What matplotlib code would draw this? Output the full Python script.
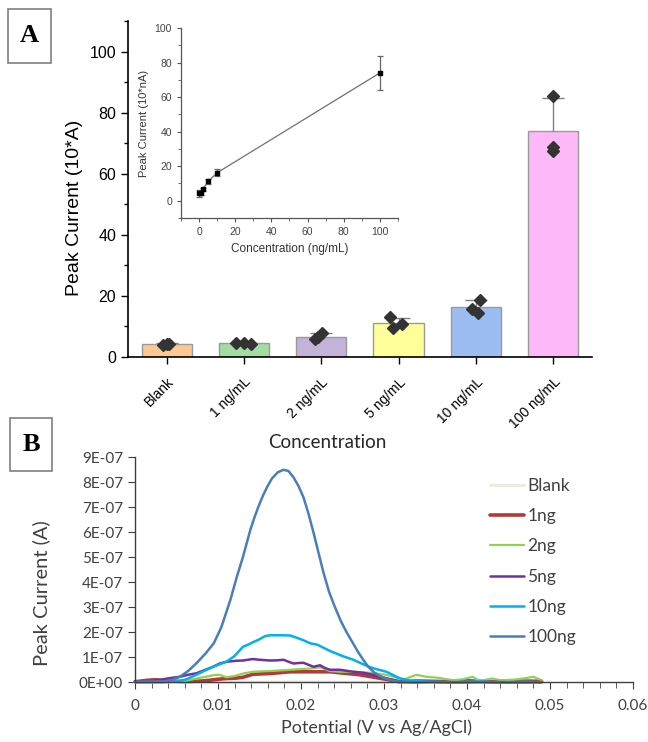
import numpy as np
import matplotlib
matplotlib.use("Agg")
import matplotlib.pyplot as plt
from matplotlib.patches import Rectangle
from matplotlib.ticker import MultipleLocator, FuncFormatter

# ---------------- Data: panel A ----------------
categories = ["Blank", "1 ng/mL", "2 ng/mL", "5 ng/mL", "10 ng/mL", "100 ng/mL"]
bar_means = [4.2, 4.5, 6.5, 11.2, 16.2, 74.0]
bar_sd = [0.3, 0.2, 1.3, 1.6, 2.4, 10.8]
rep1 = [4.0, 4.5, 5.9, 13.0, 15.6, 85.4]
rep2 = [4.3, 4.6, 6.6, 9.6, 14.5, 68.7]
rep3 = [4.1, 4.2, 7.9, 10.7, 18.6, 67.4]
jit1 = [-0.05, -0.10, -0.08, -0.11, -0.05, 0.0]
jit2 = [0.00, 0.00, -0.04, -0.07, 0.03, 0.0]
jit3 = [0.03, 0.09, 0.01, 0.04, 0.05, 0.0]
bar_colors = ["#FFC891", "#A3DCA3", "#C3B3D8", "#FFFF99", "#9CBDF2", "#FDB8F8"]

# inset
inset_conc = [0, 1, 2, 5, 10, 100]
inset_mean = [4.2, 4.5, 6.5, 11.2, 16.2, 74.0]
inset_sd = [2.0, 1.0, 1.0, 1.5, 2.0, 10.0]

# ---------------- Data: panel B ----------------
blank_x = [0, 0.01, 0.02, 0.03, 0.04, 0.049]
blank_y = [0.01, 0.0, 0.01, 0.0, 0.01, 0.0]

ng1_x = [0, 0.0015, 0.0025, 0.004, 0.006, 0.008, 0.009, 0.01, 0.011, 0.012, 0.013,
         0.0142, 0.0163, 0.0187, 0.0211, 0.0235, 0.0247, 0.0271, 0.0295, 0.0319,
         0.034, 0.037, 0.040, 0.043, 0.046, 0.049]
ng1_y = [0.02, 0.08, 0.10, 0.05, 0.03, 0.05, 0.08, 0.12, 0.15, 0.16, 0.20,
         0.32, 0.35, 0.42, 0.42, 0.42, 0.38, 0.30, 0.16, 0.02,
         0.05, 0.03, 0.06, 0.02, 0.05, 0.04]

ng2_x = [0, 0.003, 0.006, 0.0074, 0.0085, 0.0094, 0.0102, 0.011, 0.012, 0.013, 0.0142,
         0.0163, 0.0187, 0.0211, 0.0223, 0.0235, 0.0247, 0.0265, 0.0283, 0.0303, 0.0323,
         0.0339, 0.0351, 0.0365, 0.0383, 0.0395, 0.0407, 0.0415, 0.043, 0.044, 0.0455,
         0.0468, 0.048, 0.049]
ng2_y = [0.0, 0.0, 0.05, 0.15, 0.22, 0.28, 0.30, 0.20, 0.25, 0.35, 0.42,
         0.45, 0.50, 0.55, 0.60, 0.45, 0.42, 0.42, 0.38, 0.30, 0.10,
         0.30, 0.22, 0.18, 0.08, 0.12, 0.22, 0.05, 0.15, 0.08, 0.10,
         0.15, 0.22, 0.08]

ng5_x = [0, 0.002, 0.0034, 0.0045, 0.0054, 0.0064, 0.0074, 0.0085, 0.0094, 0.0102, 0.011,
         0.0122, 0.013, 0.0142, 0.015, 0.0163, 0.0172, 0.0179, 0.0185, 0.0191, 0.0197,
         0.0203, 0.0209, 0.0215, 0.0223, 0.0229, 0.0235, 0.0247, 0.0263, 0.0275, 0.0287,
         0.0303, 0.0319, 0.0335, 0.036, 0.039, 0.042, 0.045, 0.049]
ng5_y = [0.02, 0.05, 0.12, 0.18, 0.22, 0.30, 0.36, 0.50, 0.62, 0.75, 0.82,
         0.86, 0.87, 0.93, 0.90, 0.87, 0.88, 0.90, 0.82, 0.75, 0.77,
         0.78, 0.70, 0.62, 0.68, 0.57, 0.50, 0.50, 0.42, 0.38, 0.30,
         0.16, 0.03, 0.0, 0.02, 0.0, 0.02, 0.0, 0.01]

ng10_x = [0, 0.002, 0.004, 0.005, 0.0062, 0.0074, 0.0085, 0.0094, 0.0102, 0.011, 0.012,
          0.013, 0.0136, 0.0142, 0.015, 0.0157, 0.0163, 0.017, 0.0178, 0.0187, 0.0195,
          0.0203, 0.0211, 0.022, 0.0235, 0.025, 0.0263, 0.0275, 0.0287, 0.0303, 0.0319,
          0.0333, 0.035, 0.038, 0.041, 0.044, 0.047, 0.049]
ng10_y = [0.0, 0.0, 0.01, 0.03, 0.12, 0.30, 0.48, 0.62, 0.72, 0.82, 1.05,
          1.42, 1.50, 1.60, 1.72, 1.85, 1.88, 1.88, 1.88, 1.87, 1.78,
          1.68, 1.56, 1.50, 1.25, 1.05, 0.90, 0.72, 0.56, 0.42, 0.16,
          0.05, 0.03, 0.0, 0.03, 0.0, 0.02, 0.0]

ng100_x = [0, 0.002, 0.0035, 0.0045, 0.0054, 0.0064, 0.0074, 0.0085, 0.0095, 0.0104,
           0.0115, 0.0123, 0.0130, 0.0139, 0.0144, 0.0149, 0.0154, 0.0159, 0.0165, 0.0172,
           0.0179, 0.0185, 0.0191, 0.0197, 0.0203, 0.0209, 0.0215, 0.0221, 0.0227, 0.0234,
           0.0241, 0.0248, 0.0255, 0.0262, 0.0269, 0.0275, 0.0281, 0.0288, 0.0295, 0.0303,
           0.0311, 0.0319, 0.034, 0.037, 0.040, 0.043, 0.046, 0.049]
ng100_y = [0.02, 0.03, 0.04, 0.10, 0.22, 0.45, 0.76, 1.15, 1.56, 2.20,
           3.30, 4.25, 5.00, 6.10, 6.60, 7.05, 7.45, 7.80, 8.15, 8.40,
           8.50, 8.45, 8.20, 7.85, 7.40, 6.75, 6.00, 5.20, 4.40, 3.60,
           3.00, 2.45, 2.00, 1.60, 1.20, 0.90, 0.62, 0.40, 0.25, 0.14,
           0.06, 0.02, 0.0, 0.01, 0.0, 0.01, 0.0, 0.0]

series_labels = ["Blank", "1ng", "2ng", "5ng", "10ng", "100ng"]
series_colors = ["#EEECE1", "#B03A3A", "#92D050", "#7030A0", "#00B0F0", "#4A7EBB"]
series_lw = [2.2, 2.6, 1.6, 1.8, 1.8, 1.8]

# ---------------- Figure ----------------
fig = plt.figure(figsize=(6.48, 7.42), dpi=100)

AF = "Liberation Sans"
BF = "Lato"

# ---- Panel A main ----
ax = fig.add_axes([0.1975, 0.5189, 0.716, 0.4528])
xpos = np.arange(len(categories))
ax.bar(xpos, bar_means, width=0.65, color=bar_colors, edgecolor="#9a9a9a",
       linewidth=1.0, zorder=2)
eb = ax.errorbar(xpos, bar_means, yerr=[np.zeros(len(bar_sd)), bar_sd], fmt="none",
                 ecolor="#808080", elinewidth=1.0, capsize=8, capthick=1.0, zorder=3)
eb[1][0].set_visible(False)
for reps, jit in ((rep1, jit1), (rep2, jit2), (rep3, jit3)):
    ax.plot(xpos + np.array(jit), reps, ls="none", marker="D", ms=6,
            color="#333333", zorder=4)
ax.set_xlim(-0.5, 5.5)
ax.set_ylim(0, 110)
ax.yaxis.set_major_locator(MultipleLocator(20))
ax.yaxis.set_minor_locator(MultipleLocator(10))
ax.set_xticks(xpos)
ax.set_xticklabels(categories, rotation=45, ha="right", rotation_mode="anchor",
                   fontsize=10, family=AF)
for lab in ax.get_yticklabels():
    lab.set_family(AF)
ax.tick_params(axis="y", labelsize=11.5, direction="out", length=5, width=1)
ax.tick_params(axis="y", which="minor", direction="out", length=3, width=1)
ax.tick_params(axis="x", direction="out", length=5, width=1, pad=8)
for s in ("top", "right"):
    ax.spines[s].set_visible(False)
for s in ("left", "bottom"):
    ax.spines[s].set_linewidth(1.2)
ax.set_ylabel("Peak Current (10*A)", fontsize=14, family=AF)
ax.yaxis.set_label_coords(-0.097, 0.443)

# ---- Inset ----
ai = fig.add_axes([0.2793, 0.7062, 0.3349, 0.2561])
ai.patch.set_alpha(0)
ai.plot(inset_conc, inset_mean, color="#707070", lw=0.9, zorder=2)
ai.errorbar(inset_conc, inset_mean, yerr=inset_sd, fmt="s", ms=3.5, color="black",
            ecolor="#666666", elinewidth=0.9, capsize=2.5, capthick=0.9, zorder=3)
ai.set_xlim(-10, 110)
ai.set_ylim(-10, 100)
ai.xaxis.set_major_locator(MultipleLocator(20))
ai.xaxis.set_minor_locator(MultipleLocator(10))
ai.yaxis.set_major_locator(MultipleLocator(20))
ai.yaxis.set_minor_locator(MultipleLocator(10))
for s in ("top", "right"):
    ai.spines[s].set_visible(False)
for s in ("left", "bottom"):
    ai.spines[s].set_color("#555555")
    ai.spines[s].set_linewidth(0.9)
ai.tick_params(which="both", direction="out", colors="#555555", labelsize=7.5,
               labelcolor="#444444")
ai.tick_params(which="major", length=3)
ai.tick_params(which="minor", length=2)
for lab in ai.get_xticklabels() + ai.get_yticklabels():
    lab.set_family(AF)
ai.set_xlabel("Concentration (ng/mL)", fontsize=8.5, family=AF, color="#333333", labelpad=4)
ai.set_ylabel("Peak Current (10*nA)", fontsize=8, family=AF, color="#333333", labelpad=4)

# ---- Panel B ----
bx = fig.add_axes([0.2083, 0.0805, 0.7685, 0.3032])
xs = [blank_x, ng1_x, ng2_x, ng5_x, ng10_x, ng100_x]
ys = [blank_y, ng1_y, ng2_y, ng5_y, ng10_y, ng100_y]
for x, y, lab, c, lw in zip(xs, ys, series_labels, series_colors, series_lw):
    bx.plot(x, np.array(y) * 1e-7, color=c, lw=lw, label=lab, clip_on=False,
            solid_capstyle="round", solid_joinstyle="round")
bx.set_xlim(0, 0.06)
bx.set_ylim(0, 9e-7)
bx.xaxis.set_major_locator(MultipleLocator(0.01))
bx.xaxis.set_minor_locator(MultipleLocator(0.002))
bx.yaxis.set_major_locator(MultipleLocator(1e-7))
bx.yaxis.set_major_formatter(FuncFormatter(lambda v, p: f"{v:.0E}"))
bx.xaxis.set_major_formatter(FuncFormatter(lambda v, p: "0" if abs(v) < 1e-12 else f"{v:.2f}"))
for s in ("top", "right"):
    bx.spines[s].set_visible(False)
for s in ("left", "bottom"):
    bx.spines[s].set_color("#404040")
    bx.spines[s].set_linewidth(1.0)
bx.tick_params(which="both", direction="out", colors="#404040", labelcolor="#404040",
               labelsize=11)
bx.tick_params(which="major", length=5)
bx.tick_params(which="minor", length=4)
bx.tick_params(axis="x", pad=7)
for lab in bx.get_xticklabels() + bx.get_yticklabels():
    lab.set_family(BF)
bx.set_xlabel("Potential (V vs Ag/AgCl)", fontsize=13, family=BF, color="#404040")
bx.xaxis.set_label_coords(0.484, -0.165)
bx.set_ylabel("Peak Current (A)", fontsize=14.5, family=BF, color="#404040")
bx.yaxis.set_label_coords(-0.17, 0.395)
fig.text(0.505, 0.403, "Concentration", ha="center", va="center", fontsize=13.5,
         family=BF, color="#262626")
leg = bx.legend(loc="upper left", bbox_to_anchor=(490 / 648, 1 - 478 / 742),
                bbox_transform=fig.transFigure, frameon=False, prop={"family": BF, "size": 12.5},
                handlelength=1.95, handletextpad=0.2, labelspacing=0.82, borderpad=0,
                borderaxespad=0)
for t in leg.get_texts():
    t.set_color("#404040")

# ---- Panel labels ----
for (x0, y0, w, h, tx, ty, letter) in [
        (8 / 648, 1 - 63 / 742, 43 / 648, 54 / 742, 29.5 / 648, 1 - 36 / 742, "A"),
        (10 / 648, 1 - 471 / 742, 42 / 648, 53 / 742, 31 / 648, 1 - 444.5 / 742, "B")]:
    fig.patches.append(Rectangle((x0, y0), w, h, transform=fig.transFigure,
                                 fill=False, edgecolor="#7f7f7f", lw=1.2))
    fig.text(tx, ty, letter, ha="center", va="center", fontsize=19, fontweight="bold",
             family="Liberation Serif")

fig.savefig("out.png", dpi=100)
